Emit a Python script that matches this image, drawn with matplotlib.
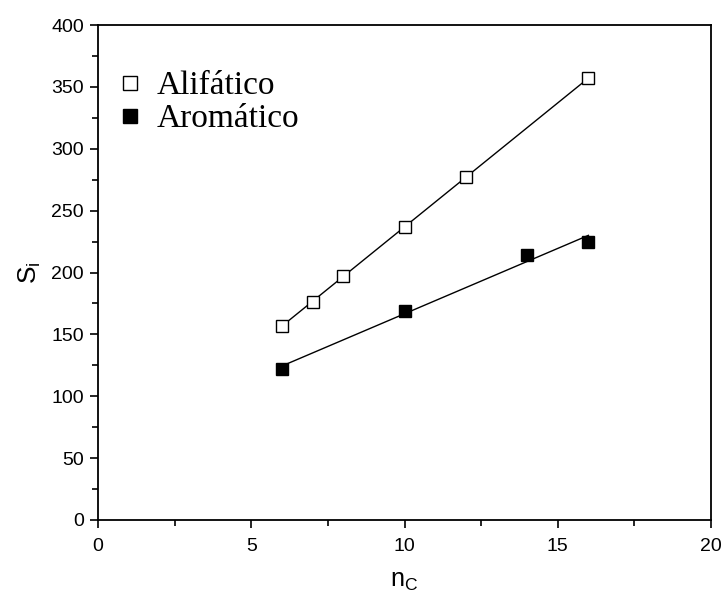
import numpy as np
import matplotlib
matplotlib.use("Agg")
import matplotlib.pyplot as plt
from matplotlib.ticker import MultipleLocator
from matplotlib.lines import Line2D

ali_x = [6, 7, 8, 10, 12, 16]
ali_y = [157, 176, 197, 237, 277, 357]
aro_x = [6, 10, 14, 16]
aro_y = [122, 169, 214, 225]

fig = plt.figure(figsize=(7.23, 5.98), dpi=100)
ax = fig.add_axes([98/723, 1-520/598, (711-98)/723, (520-25)/598])

for xs, ys, fc in [(ali_x, ali_y, 'white'), (aro_x, aro_y, 'black')]:
    xs = np.array(xs); ys = np.array(ys)
    m, b = np.polyfit(xs, ys, 1)
    xl = np.array([xs.min(), xs.max()])
    ax.plot(xl, m*xl + b, color='black', lw=1, zorder=1)
    ax.plot(xs, ys, 's', ms=8, mfc=fc, mec='black', mew=1, zorder=2, ls='none')

ax.set_xlim(0, 20)
ax.set_ylim(0, 400)
ax.xaxis.set_major_locator(MultipleLocator(5))
ax.xaxis.set_minor_locator(MultipleLocator(2.5))
ax.yaxis.set_major_locator(MultipleLocator(50))
ax.yaxis.set_minor_locator(MultipleLocator(25))
ax.tick_params(which='both', direction='out', top=False, right=False,
               labelsize=14, width=1.2)
ax.tick_params(axis='x', which='major', pad=7)
ax.tick_params(axis='y', which='major', pad=4)
ax.tick_params(which='major', length=6)
ax.tick_params(which='minor', length=4)
for lab in ax.get_xticklabels() + ax.get_yticklabels():
    lab.set_family('Liberation Sans')
for s in ax.spines.values():
    s.set_linewidth(1.3)

ax.set_xlabel(r'n$_\mathregular{C}$', fontsize=18, family='Liberation Sans', labelpad=10)
ax.set_ylabel(r'S$_\mathregular{i}$', fontsize=19, family='Liberation Sans', labelpad=6)

handles = [Line2D([], [], marker='s', ls='none', ms=10, mfc='white', mec='black', mew=1),
           Line2D([], [], marker='s', ls='none', ms=10, mfc='black', mec='black', mew=1)]
leg = ax.legend(handles, ['Alifático', 'Aromático'], loc='upper left',
                bbox_to_anchor=(-0.018, 0.975), frameon=False, handlelength=0.6,
                handletextpad=0.5, labelspacing=0.08, borderaxespad=0.6,
                prop={'family': 'Liberation Serif', 'size': 24})

fig.savefig('out.png', dpi=100)
